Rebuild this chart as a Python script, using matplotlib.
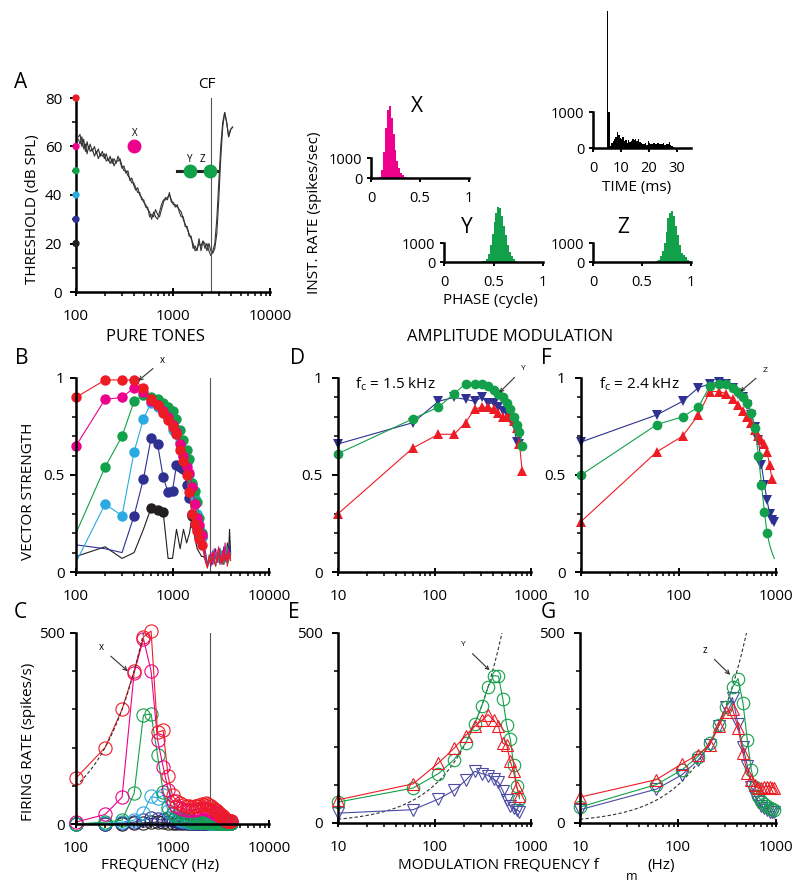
import matplotlib.pyplot as plt
import numpy as np
from matplotlib.ticker import FixedLocator, LogLocator, NullFormatter, FuncFormatter, MultipleLocator

plt.rcParams['font.family'] = ['Open Sans', 'DejaVu Sans']
plt.rcParams['font.size'] = 11
plt.rcParams['mathtext.fontset'] = 'custom'
plt.rcParams['mathtext.rm'] = 'Open Sans'
plt.rcParams['mathtext.it'] = 'Open Sans'

RED = '#ed1c24'
MAG = '#ec008c'
GRN = '#13a04a'
LBL = '#29abe2'
DBL = '#2e3192'
BLK = '#231f20'
PURP = '#4b4ba3'

# ---------------- data ----------------
cf = 2460
levels = [80, 60, 50, 40, 30, 20]
level_colors = [RED, MAG, GRN, LBL, DBL, BLK]

thr_f = [106, 110, 115, 120, 125, 130, 135, 140, 147, 155,
         162, 170, 178, 187, 196, 205, 215, 225, 236, 247,
         259, 271, 284, 298, 312, 327, 343, 359, 376, 394,
         413, 433, 454, 476, 499, 523, 548, 574, 602, 631,
         661, 693, 726, 761, 798, 836, 876, 918, 962, 1008,
         1057, 1108, 1161, 1217, 1275, 1336, 1400, 1467, 1538, 1611,
         1689, 1770, 1855, 1944, 2037, 2135, 2237, 2345, 2457, 2575,
         2698, 2828, 2963, 3106, 3255, 3411, 3574, 3746, 3925, 4114]
thr_v1 = [64, 65, 60, 63, 58, 62, 59, 61, 58, 60, 57, 59, 56, 58, 55, 57, 54, 56, 53, 55,
          53, 56, 54, 51, 52, 49, 50, 46, 47, 44, 42, 43, 40, 39, 37, 36, 34, 33, 30, 33,
          31, 30, 33, 36, 38, 38, 39, 40, 38, 36, 36, 35, 34, 33, 30, 28, 26, 24, 22, 20,
          17, 18, 20, 19, 21, 18, 20, 17, 15, 17, 20, 30, 45, 60, 70, 74, 70, 64, 67, 68]
thr_v2 = [63, 61, 64, 59, 61, 57, 60, 58, 59, 56, 58, 55, 57, 56, 57, 54, 55, 53, 55, 52,
          54, 54, 55, 52, 50, 50, 48, 47, 45, 45, 43, 41, 41, 38, 38, 35, 35, 31, 32, 31,
          34, 32, 31, 34, 37, 39, 38, 41, 37, 37, 35, 36, 33, 31, 31, 27, 27, 23, 23, 18,
          19, 17, 22, 17, 21, 20, 17, 20, 17, 16, 18, 24, 38, 55, 68, 74, 70, 64, 67, 68]

# example stimuli marked on the tuning curve
x_freq, x_level = 400, 60
yz_freq = [1500, 2430]
yz_level = 50
yz_bar = [1100, 2850]

# period histograms (phase bins of 0.02 cycle)
phase_edges = [i * 0.02 for i in range(51)]
hist_x = [0, 0, 0, 5, 60, 400, 1300, 2500, 3400, 3600,
          3000, 2200, 1400, 850, 480, 260, 130, 60, 25, 10] + [0] * 30
hist_y = [0] * 10 + [10, 10, 15, 10, 20, 15, 20, 25, 20, 30,
                     40, 150, 400, 900, 1500, 2100, 2600, 2900, 2850, 2400,
                     1900, 1400, 900, 550, 300, 150, 60, 20, 10, 0] + [0] * 10
hist_z = [0] * 10 + [5, 5, 10, 5, 10, 10, 5, 10, 10, 15,
                     10, 15, 10, 15, 20, 15, 20, 20, 25, 20,
                     20, 15, 30, 120, 300, 600, 1000, 1600, 2300, 2600,
                     2700, 2400, 1900, 1400, 900, 500, 350, 250, 120, 40]
# PST histogram (0.5 ms bins)
time_edges = [i * 0.5 for i in range(61)]
time_counts = [0, 0, 0, 0, 0, 0, 0, 0, 0, 0,
               3800, 1000, 60, 150, 200, 250, 300, 450, 350, 280,
               250, 300, 200, 220, 150, 230, 180, 200, 250, 220,
               260, 200, 240, 180, 150, 120, 100, 140, 90, 200,
               150, 120, 110, 130, 120, 100, 150, 110, 120, 100,
               130, 90, 110, 120, 160, 80, 60, 20, 10, 0]

# pure tones: 100..4000 Hz
tone_f = list(range(100, 4100, 100))
vs = {
    80: [0.90, 0.99, 0.99, 0.99, 0.95, 0.89, 0.86, 0.82, 0.785, 0.75, 0.71, 0.63, 0.57, 0.50, 0.41, 0.30, 0.25, 0.21, 0.17, 0.14,
         0.10, 0.05, 0.02, 0.08, 0.04, 0.10, 0.06, 0.03, 0.09, 0.12, 0.05, 0.08, 0.04, 0.11, 0.06, 0.09, 0.03, 0.07, 0.10, 0.06],
    60: [0.65, 0.89, 0.90, 0.95, 0.93, 0.88, 0.86, 0.83, 0.80, 0.76, 0.72, 0.66, 0.60, 0.54, 0.51, 0.44, 0.35, 0.28, 0.24, 0.19,
         0.14, 0.08, 0.03, 0.06, 0.10, 0.04, 0.12, 0.07, 0.05, 0.13, 0.09, 0.04, 0.11, 0.06, 0.15, 0.08, 0.05, 0.12, 0.07, 0.09],
    50: [0.20, 0.54, 0.70, 0.88, 0.91, 0.90, 0.89, 0.87, 0.85, 0.83, 0.79, 0.73, 0.68, 0.63, 0.58, 0.46, 0.42, 0.36, 0.28, 0.20,
         0.12, 0.06, 0.04, 0.09, 0.05, 0.11, 0.07, 0.03, 0.08, 0.06, 0.12, 0.05, 0.09, 0.04, 0.10, 0.07, 0.13, 0.05, 0.08, 0.10],
    40: [0.05, 0.35, 0.29, 0.62, 0.79, 0.87, 0.85, 0.83, 0.80, 0.73, 0.71, 0.67, 0.60, 0.56, 0.50, 0.45, 0.38, 0.30, 0.23, 0.18,
         0.14, 0.07, 0.03, 0.05, 0.09, 0.06, 0.04, 0.10, 0.07, 0.05, 0.08, 0.11, 0.06, 0.04, 0.09, 0.12, 0.05, 0.07, 0.10, 0.06],
    30: [0.14, 0.12, 0.10, 0.29, 0.48, 0.69, 0.66, 0.49, 0.41, 0.42, 0.55, 0.54, 0.53, 0.45, 0.38, 0.30, 0.25, 0.22, 0.21, 0.18,
         0.15, 0.10, 0.04, 0.07, 0.03, 0.08, 0.05, 0.12, 0.06, 0.09, 0.04, 0.10, 0.07, 0.13, 0.05, 0.08, 0.11, 0.06, 0.14, 0.09],
    20: [0.08, 0.13, 0.07, 0.10, 0.22, 0.33, 0.32, 0.31, 0.07, 0.07, 0.22, 0.12, 0.22, 0.15, 0.20, 0.29, 0.18, 0.12, 0.10, 0.08,
         0.08, 0.06, 0.03, 0.05, 0.09, 0.04, 0.07, 0.10, 0.05, 0.08, 0.12, 0.06, 0.09, 0.04, 0.11, 0.07, 0.15, 0.08, 0.22, 0.10],
}
vs_first_sig = {80: 100, 60: 100, 50: 200, 40: 200, 30: 400, 20: 600}
vs_min_sig = {80: 0.12, 60: 0.12, 50: 0.12, 40: 0.12, 30: 0.12, 20: 0.25}

rate = {
    80: [120, 200, 300, 400, 490, 505, 240, 245, 125, 75, 60, 55, 50, 48, 46, 45, 46, 48, 50, 52,
         50, 55, 52, 50, 46, 42, 40, 37, 34, 30, 26, 22, 20, 16, 12, 10, 10, 9, 8, 8],
    60: [5, 25, 70, 395, 485, 400, 220, 150, 90, 60, 48, 42, 38, 36, 36, 36, 37, 38, 40, 42,
         42, 40, 38, 36, 35, 33, 30, 28, 25, 22, 20, 18, 15, 12, 10, 10, 9, 8, 8, 8],
    50: [0, 5, 10, 80, 285, 288, 180, 85, 45, 30, 22, 16, 12, 10, 8, 7, 6, 6, 5, 5,
         5, 5, 5, 4, 4, 4, 4, 3, 3, 3, 3, 3, 3, 3, 3, 3, 3, 3, 3, 3],
    40: [0, 2, 5, 10, 30, 72, 68, 75, 35, 25, 15, 10, 8, 7, 6, 5, 5, 5, 4, 4,
         4, 4, 4, 3, 3, 3, 3, 3, 3, 3, 3, 3, 3, 3, 3, 3, 3, 3, 3, 3],
    30: [0, 0, 2, 5, 10, 15, 12, 10, 15, 10, 8, 6, 5, 4, 4, 3, 3, 3, 3, 3,
         3, 3, 2, 2, 2, 2, 2, 2, 2, 2, 2, 2, 2, 2, 2, 2, 2, 2, 2, 2],
    20: [0, 0, 0, 2, 3, 4, 5, 4, 3, 3, 2, 2, 2, 2, 2, 2, 2, 2, 2, 2,
         2, 2, 2, 2, 2, 2, 2, 2, 2, 2, 2, 2, 2, 2, 2, 2, 2, 2, 2, 2],
}

# amplitude modulation, modulation frequencies in Hz
fm = [10, 60, 110, 160, 210, 260, 310, 360, 410, 460, 510, 560, 610, 660, 710, 760, 810, 860, 910, 960]
d_blue = [0.66, 0.77, 0.88, 0.90, 0.89, 0.88, 0.90, 0.87, 0.87, 0.85, 0.83, 0.82, 0.79, 0.76, 0.67, 0.66]
d_green = [0.61, 0.79, 0.85, 0.92, 0.97, 0.97, 0.97, 0.96, 0.94, 0.92, 0.90, 0.87, 0.84, 0.80, 0.76, 0.72, 0.65]
d_red = [0.30, 0.64, 0.71, 0.71, 0.77, 0.84, 0.85, 0.85, 0.84, 0.82, 0.80, 0.80, 0.80, 0.78, 0.74, 0.66, 0.52]

f_blue = [0.67, 0.81, 0.88, 0.95, 0.97, 0.98, 0.97, 0.95, 0.92, 0.90, 0.86, 0.81, 0.75, 0.68, 0.55, 0.45, 0.37, 0.30, 0.27, 0.26]
f_green = [0.50, 0.76, 0.80, 0.85, 0.96, 0.97, 0.97, 0.95, 0.93, 0.90, 0.87, 0.82, 0.74, 0.60, 0.45, 0.31, 0.20, 0.14, 0.10, 0.07]
f_green_dots = 17
f_red = [0.26, 0.62, 0.70, 0.81, 0.93, 0.93, 0.92, 0.89, 0.86, 0.83, 0.80, 0.77, 0.73, 0.70, 0.68, 0.66, 0.62, 0.55, 0.48]

e_green = [55, 92, 130, 167, 210, 260, 309, 358, 388, 386, 327, 257, 221, 153, 98, 64]
e_red = [61, 103, 158, 197, 230, 254, 270, 285, 270, 255, 210, 205, 162, 136, 96, 70]
e_blue = [26, 35, 63, 86, 112, 136, 130, 125, 115, 107, 85, 61, 45, 40, 35, 30]

g_green = [42, 101, 140, 175, 210, 257, 304, 358, 380, 316, 218, 140, 95, 70, 58, 50, 45, 40, 37, 35]
g_red = [68, 114, 156, 180, 205, 255, 292, 300, 250, 184, 131, 114, 100, 92, 92, 95, 96, 96, 93, 92]
g_blue = [35, 89, 127, 165, 205, 255, 305, 330, 260, 200, 150, 95, 70, 55, 45, 40, 35, 30, 30, 30]

# ---------------- figure ----------------
W, H = 800, 885
fig = plt.figure(figsize=(8, 8.85), dpi=100)


def add_ax(x0, x1, ybot, ytop):
    return fig.add_axes([x0 / W, 1 - ybot / H, (x1 - x0) / W, (ybot - ytop) / H])


def txt(x, y, s, **kw):
    kw.setdefault('ha', 'center')
    kw.setdefault('va', 'center')
    fig.text(x / W, 1 - y / H, s, **kw)


def style(ax, ypad=4):
    for s in ['top', 'right']:
        ax.spines[s].set_visible(False)
    for s in ['left', 'bottom']:
        ax.spines[s].set_linewidth(1.8)
    ax.tick_params(which='major', length=4, width=1.4, direction='out')
    ax.tick_params(which='minor', length=3, width=1.1, direction='out')
    ax.tick_params(axis='y', which='major', pad=ypad)


def log_x(ax, lo, hi):
    ax.set_xscale('log')
    ax.set_xlim(lo, hi)
    ticks = [t for t in [10, 100, 1000, 10000] if lo <= t <= hi]
    ax.xaxis.set_major_locator(FixedLocator(ticks))
    ax.xaxis.set_major_formatter(FuncFormatter(lambda v, p: f'{int(round(v))}'))
    ax.xaxis.set_minor_locator(LogLocator(base=10, subs=np.arange(2, 10)))
    ax.xaxis.set_minor_formatter(NullFormatter())
    ax.tick_params(axis='x', which='major', length=6, direction='inout', pad=9)
    ax.tick_params(axis='x', which='minor', length=3, direction='out')


def vs_y(ax):
    ax.set_ylim(0, 1)
    ax.yaxis.set_major_locator(FixedLocator([0, 0.5, 1]))
    ax.yaxis.set_major_formatter(FuncFormatter(lambda v, p: {0: '0', 0.5: '0.5', 1: '1'}[v]))
    ax.yaxis.set_minor_locator(MultipleLocator(0.1))


def rate_y(ax):
    ax.set_ylim(0, 500)
    ax.yaxis.set_major_locator(FixedLocator([0, 500]))
    ax.yaxis.set_minor_locator(MultipleLocator(100))


# ---- panel A ----
axA = add_ax(76, 270, 292, 98)
style(axA, ypad=6)
log_x(axA, 100, 10000)
axA.set_ylim(0, 80)
axA.yaxis.set_major_locator(MultipleLocator(20))
axA.yaxis.set_minor_locator(MultipleLocator(10))
axA.plot(thr_f, thr_v1, color='#333333', lw=0.8)
axA.plot(thr_f, thr_v2, color='#333333', lw=0.8)
axA.plot([cf, cf], [0, 80], color='#555555', lw=0.8)
axA.scatter([100] * len(levels), levels, c=level_colors, s=18, zorder=5, clip_on=False)
axA.plot(x_freq, x_level, 'o', color=MAG, ms=9)
axA.text(x_freq, x_level + 4.5, 'X', fontsize=7, ha='center')
axA.plot(yz_bar, [yz_level, yz_level], color='#222222', lw=2.2)
axA.plot(yz_freq, [yz_level] * 2, 'o', color=GRN, ms=9)
axA.text(1480, yz_level + 3.5, 'Y', fontsize=7, ha='center')
axA.text(2030, yz_level + 3.5, 'Z', fontsize=7, ha='center')


# ---- histograms ----
def hist_axes(x0, x1, ybot, ytop, xmax):
    ax = add_ax(x0, x1, ybot, ytop)
    style(ax, ypad=3)
    ax.set_ylim(0, 4000)
    ax.set_xlim(0, xmax)
    ax.spines['left'].set_bounds(0, 1000)
    ax.set_yticks([0, 1000])
    ax.tick_params(axis='both', labelsize=10.5, length=3)
    ax.tick_params(axis='x', pad=6)
    ax.patch.set_alpha(0)
    return ax


hX = hist_axes(371, 469, 178, 98, 1)
hX.stairs(hist_x, phase_edges, fill=True, color=MAG, lw=0)
hX.set_xticks([0, 0.5, 1])
hX.set_xticklabels(['0', '0.5', '1'])

hT = hist_axes(593, 691, 148, 4, 35)
hT.stairs(time_counts, time_edges, fill=True, color='black', lw=0)
hT.set_xticks([0, 10, 20, 30])

hY = hist_axes(444, 543, 262, 186, 1)
hY.stairs(hist_y, phase_edges, fill=True, color=GRN, lw=0)
hY.set_xticks([0, 0.5, 1])
hY.set_xticklabels(['0', '0.5', '1'])

hZ = hist_axes(593, 691, 262, 186, 1)
hZ.stairs(hist_z, phase_edges, fill=True, color=GRN, lw=0)
hZ.set_xticks([0, 0.5, 1])
hZ.set_xticklabels(['0', '0.5', '1'])

# ---- panel B ----
axB = add_ax(76, 269, 572, 378)
style(axB)
log_x(axB, 100, 10000)
vs_y(axB)
axB.plot([cf, cf], [0, 1], color='#555555', lw=0.8)
tf = np.array(tone_f)
for lev, col in zip([20, 30, 40, 50, 60, 80], [BLK, DBL, LBL, GRN, MAG, RED]):
    v = np.array(vs[lev])
    axB.plot(tf, v, color=col, lw=0.8)
    m = (tf >= vs_first_sig[lev]) & (tf <= 2000) & (v >= vs_min_sig[lev])
    axB.plot(tf[m], v[m], 'o', color=col, ms=7.5, mew=0, clip_on=False)
axB.annotate('x', xy=(440, 0.985), xytext=(790, 1.09), fontsize=7, ha='center', va='center',
             arrowprops=dict(arrowstyle='->', lw=0.8, color='#333333', shrinkA=4, shrinkB=0),
             annotation_clip=False)

# ---- panel C ----
axC = add_ax(76, 269, 824, 633)
style(axC)
log_x(axC, 100, 10000)
rate_y(axC)
axC.plot([cf, cf], [0, 500], color='#555555', lw=0.8)
for lev, col in zip([20, 30, 40, 50, 60, 80], [BLK, DBL, LBL, GRN, MAG, RED]):
    axC.plot(tone_f, rate[lev], '-o', color=col, mfc='none', ms=9.5, mew=0.8, lw=0.8, clip_on=False)
ref_c = np.geomspace(100, 500, 40)
axC.plot(ref_c, ref_c, '--', color='#333333', lw=0.8, dashes=(3, 2))
axC.annotate('x', xy=(345, 400), xytext=(183, 461), fontsize=7, ha='center', va='center',
             arrowprops=dict(arrowstyle='->', lw=0.8, color='#333333', shrinkA=4, shrinkB=0))

# ---- panels D, F ----
axD = add_ax(338, 531, 572, 378)
axF = add_ax(581, 776, 572, 378)
for ax in (axD, axF):
    style(ax, ypad=7)
    log_x(ax, 10, 1000)
    vs_y(ax)

axD.plot(fm[:len(d_blue)], d_blue, '-v', color=DBL, ms=7, lw=0.8, mew=0, clip_on=False)
axD.plot(fm[:len(d_red)], d_red, '-^', color=RED, ms=7, lw=0.8, mew=0, clip_on=False)
axD.plot(fm[:len(d_green)], d_green, '-o', color=GRN, ms=7, lw=0.8, mew=0, clip_on=False)
axD.text(0.09, 0.97, r'f$_{\mathrm{c}}$ = 1.5 kHz', transform=axD.transAxes, fontsize=11, va='center')
axD.annotate('Y', xy=(470, 0.925), xytext=(840, 1.05), fontsize=6, ha='center', va='center',
             arrowprops=dict(arrowstyle='->', lw=0.8, color='#333333', shrinkA=4, shrinkB=0),
             annotation_clip=False)

axF.plot(fm[:len(f_blue)], f_blue, '-v', color=DBL, ms=7, lw=0.8, mew=0, clip_on=False)
axF.plot(fm[:len(f_red)], f_red, '-^', color=RED, ms=7, lw=0.8, mew=0, clip_on=False)
axF.plot(fm[:len(f_green)], f_green, '-o', color=GRN, ms=7, lw=0.8, mew=0,
         markevery=slice(0, f_green_dots), clip_on=False)
axF.text(0.09, 0.97, r'f$_{\mathrm{c}}$ = 2.4 kHz', transform=axF.transAxes, fontsize=11, va='center')
axF.annotate('Z', xy=(430, 0.93), xytext=(780, 1.04), fontsize=6, ha='center', va='center',
             arrowprops=dict(arrowstyle='->', lw=0.8, color='#333333', shrinkA=4, shrinkB=0),
             annotation_clip=False)

# ---- panels E, G ----
axE = add_ax(338, 531, 823, 633)
axG = add_ax(580, 776, 823, 633)
ref_m = np.geomspace(10, 520, 60)
for ax in (axE, axG):
    style(ax, ypad=7)
    log_x(ax, 10, 1000)
    rate_y(ax)
    ax.plot(ref_m, ref_m, '--', color='#333333', lw=0.8, dashes=(3, 2))

axE.plot(fm[:len(e_blue)], e_blue, '-v', color=PURP, mfc='none', ms=9, mew=0.8, lw=0.8, clip_on=False)
axE.plot(fm[:len(e_green)], e_green, '-o', color=GRN, mfc='none', ms=9, mew=0.8, lw=0.8, clip_on=False)
axE.plot(fm[:len(e_red)], e_red, '-^', color=RED, mfc='none', ms=9, mew=0.8, lw=0.8, clip_on=False)
axE.annotate('Y', xy=(372, 402), xytext=(199, 469), fontsize=6, ha='center', va='center',
             arrowprops=dict(arrowstyle='->', lw=0.8, color='#333333', shrinkA=4, shrinkB=0))

axG.plot(fm[:len(g_blue)], g_blue, '-v', color=PURP, mfc='none', ms=9, mew=0.8, lw=0.8, clip_on=False)
axG.plot(fm[:len(g_green)], g_green, '-o', color=GRN, mfc='none', ms=9, mew=0.8, lw=0.8, clip_on=False)
axG.plot(fm[:len(g_red)], g_red, '-^', color=RED, mfc='none', ms=9, mew=0.8, lw=0.8, clip_on=False)
axG.annotate('z', xy=(341, 390), xytext=(190, 454), fontsize=7, ha='center', va='center',
             arrowprops=dict(arrowstyle='->', lw=0.8, color='#333333', shrinkA=4, shrinkB=0))

# ---- figure texts ----
for x, y, s in [(21, 83, 'A'), (22, 358, 'B'), (20, 613, 'C'), (298, 359, 'D'),
                (294, 613, 'E'), (546, 358, 'F'), (548, 613, 'G')]:
    txt(x, y, s, fontsize=15)
txt(207, 85, 'CF', fontsize=11)
txt(417, 107, 'X', fontsize=15)
txt(467, 228, 'Y', fontsize=15)
txt(623, 228, 'Z', fontsize=15)
txt(637, 188, 'TIME (ms)', fontsize=11)
txt(490, 300, 'PHASE (cycle)', fontsize=11)
txt(315, 213, 'INST. RATE (spikes/sec)', fontsize=11, rotation=90)
txt(33, 209, 'THRESHOLD (dB SPL)', fontsize=11, rotation=90)
txt(29, 491, 'VECTOR STRENGTH', fontsize=11, rotation=90)
txt(28, 742, 'FIRING RATE (spikes/s)', fontsize=11, rotation=90)
txt(155, 337, 'PURE TONES', fontsize=12)
txt(510, 337, 'AMPLITUDE MODULATION', fontsize=12)
txt(160, 865, 'FREQUENCY (Hz)', fontsize=11)
txt(398, 865, 'MODULATION FREQUENCY f', fontsize=11, ha='left')
txt(632, 877, 'm', fontsize=9)
txt(661, 866, '(Hz)', fontsize=11)

fig.savefig('out.png', dpi=100)
